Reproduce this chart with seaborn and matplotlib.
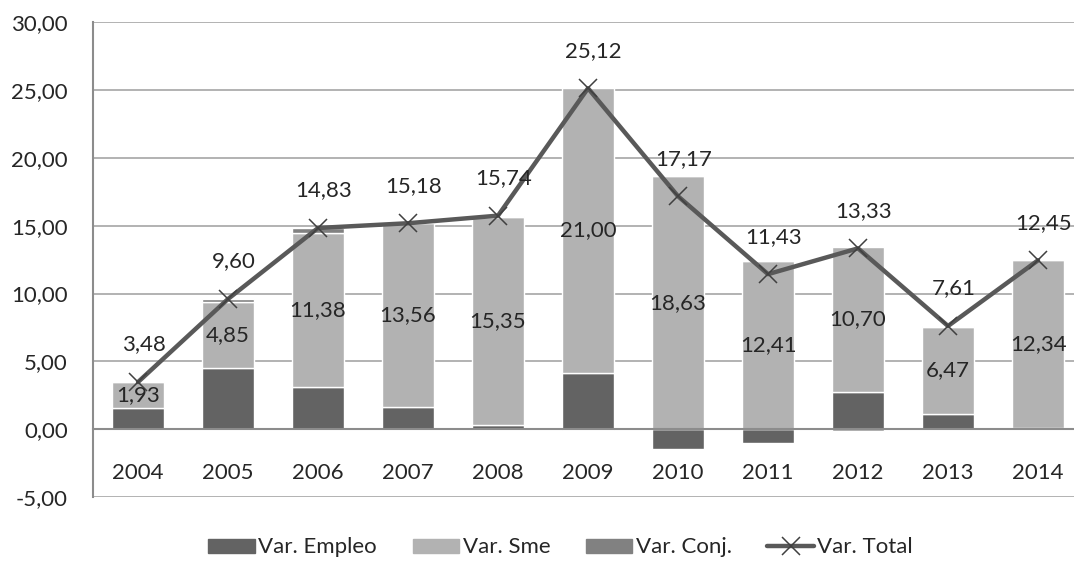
import numpy as np
import seaborn as sns
import matplotlib.pyplot as plt
from matplotlib.patches import Patch
from matplotlib.lines import Line2D

# Datos
years = ['2004', '2005', '2006', '2007', '2008', '2009', '2010', '2011', '2012', '2013', '2014']
var_empleo = [1.55, 4.50, 3.10, 1.62, 0.30, 4.15, -1.47, -0.98, 2.75, 1.10, 0.10]
var_sme = [1.93, 4.85, 11.38, 13.56, 15.35, 21.00, 18.63, 12.41, 10.70, 6.47, 12.34]
var_conj = [0.00, 0.25, 0.35, 0.00, 0.09, -0.03, 0.01, 0.00, -0.12, 0.04, 0.01]
var_total = [3.48, 9.60, 14.83, 15.18, 15.74, 25.12, 17.17, 11.43, 13.33, 7.61, 12.45]

sns.set_style('white')
plt.rcParams['font.family'] = ['Lato', 'DejaVu Sans']

c_empleo, c_sme, c_conj, c_total = '#636363', '#b2b2b2', '#818181', '#595959'
fs = 16

fig = plt.figure(figsize=(10.74, 5.65), dpi=100)
# el área de trazado sigue más allá del borde derecho, como en el original recortado
ax = fig.add_axes([0.0866, 0.12, 0.9218, 0.841])

x = np.arange(len(years))
w = 0.57

# apilado: positivos hacia arriba, negativos hacia abajo
pos = np.zeros(len(years))
neg = np.zeros(len(years))
for vals, col in [(var_empleo, c_empleo), (var_sme, c_sme), (var_conj, c_conj)]:
    vals = np.array(vals)
    bottom = np.where(vals >= 0, pos, neg)
    ax.bar(x, vals, width=w, bottom=bottom, color=col, zorder=2)
    if col == c_sme:
        for xi, b, v in zip(x, bottom, vals):
            ax.text(xi, b + v / 2, f'{v:.2f}'.replace('.', ','), ha='center', va='center',
                    fontsize=fs, zorder=5)
    pos = np.where(vals >= 0, pos + vals, pos)
    neg = np.where(vals < 0, neg + vals, neg)

sns.lineplot(x=x, y=var_total, color=c_total, linewidth=3.2, marker='x', markersize=13,
             markeredgewidth=1.1, markeredgecolor='#404040', ax=ax, zorder=4)

for xi, v in zip(x, var_total):
    ax.annotate(f'{v:.2f}'.replace('.', ','), (xi, v), xytext=(4, 27),
                textcoords='offset points', ha='center', va='center', fontsize=fs, zorder=6)

ax.set_xlim(-0.5, len(years) - 0.5)
ax.set_ylim(-5, 30)
ax.set_yticks(np.arange(-5, 31, 5))
ax.set_yticklabels([f'{v:.2f}'.replace('.', ',') for v in np.arange(-5, 31, 5)])
ax.set_xticks(x)
ax.set_xticklabels(years)
ax.grid(axis='y', color='#a6a6a6', linewidth=1.2, zorder=0)

for s in ['top', 'right']:
    ax.spines[s].set_visible(False)
ax.spines['bottom'].set_position(('data', 0))
ax.spines['bottom'].set_color('#8c8c8c')
ax.spines['bottom'].set_linewidth(1.5)
ax.spines['left'].set_color('#8c8c8c')
ax.spines['left'].set_linewidth(1.5)
ax.tick_params(axis='x', length=0, pad=24, labelsize=fs)
ax.tick_params(axis='y', length=0, pad=18, labelsize=fs)

handles = [Patch(color=c_empleo), Patch(color=c_sme), Patch(color=c_conj),
           Line2D([], [], color=c_total, linewidth=3.2, marker='x', markersize=13,
                  markeredgewidth=1.1, markeredgecolor='#404040')]
labels = ['Var. Empleo', 'Var. Sme', 'Var. Conj.', 'Var. Total']
fig.legend(handles, labels, loc='center', bbox_to_anchor=(0.522, 0.031), ncol=4, frameon=False,
           fontsize=fs, handlelength=2.1, handleheight=0.6, handletextpad=0.15, columnspacing=1.6)

plt.savefig('out.png', dpi=100)
